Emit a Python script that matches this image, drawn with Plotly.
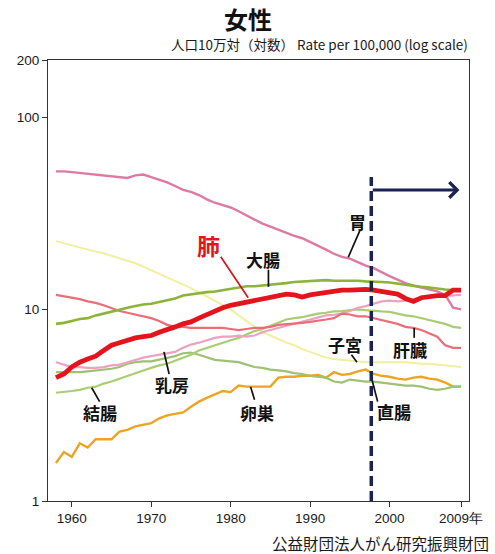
import math
import plotly.graph_objects as go

# ---- data: female cancer mortality, rate per 100,000 (log scale) ----
years = list(range(1958, 2010))

stomach = [52.5, 52.5, 52.0, 51.5, 51.0, 50.5, 50.0, 49.5, 49.0, 48.5,
           50.0, 50.5, 49.0, 47.5, 46.0, 44.0, 42.0, 41.0, 39.5, 37.5,
           36.0, 35.0, 34.0, 32.5, 31.0, 29.5, 28.0, 27.0, 26.0, 25.0,
           24.2, 23.5, 22.5, 21.5, 20.5, 19.5, 18.8, 18.4, 17.6, 16.9,
           16.4, 15.6, 14.9, 14.3, 13.7, 13.3, 13.0, 12.7, 12.4, 11.9,
           10.2, 10.0]

colorectal = [8.4, 8.5, 8.7, 8.9, 9.0, 9.3, 9.5, 9.75, 10.0, 10.2,
              10.4, 10.6, 10.7, 10.9, 11.1, 11.4, 11.8, 12.0, 12.1, 12.3,
              12.4, 12.6, 12.8, 13.0, 13.2, 13.2, 13.3, 13.4, 13.6, 13.7,
              13.9, 14.0, 14.1, 14.2, 14.2, 14.1, 14.1, 14.2, 14.1, 14.0,
              14.0, 13.9, 13.8, 13.6, 13.4, 13.3, 13.1, 13.0, 12.8, 12.7,
              12.6, 12.6]

lung = [4.4, 4.6, 5.0, 5.3, 5.5, 5.7, 6.1, 6.5, 6.7, 6.9,
        7.1, 7.2, 7.3, 7.6, 7.9, 8.1, 8.4, 8.6, 9.0, 9.4,
        9.9, 10.2, 10.5, 10.7, 11.0, 11.2, 11.4, 11.6, 11.8, 12.0,
        11.9, 11.6, 11.9, 12.1, 12.2, 12.4, 12.6, 12.6, 12.7, 12.7,
        12.6, 12.4, 12.2, 12.0, 11.4, 11.0, 11.5, 11.7, 11.8, 11.8,
        12.6, 12.6]

liver = [11.9, 11.7, 11.5, 11.3, 11.0, 10.8, 10.5, 10.1, 9.8, 9.6,
         9.4, 9.2, 9.0, 8.7, 8.3, 8.1, 8.1, 8.0, 8.0, 8.0,
         8.0, 8.0, 7.9, 7.8, 7.9, 8.0, 8.0, 8.1, 8.3, 8.35,
         8.4, 8.5, 8.6, 8.7, 8.85, 9.0, 9.5, 9.4, 9.2, 9.2,
         9.0, 8.8, 8.6, 8.4, 8.1, 8.0, 7.8, 7.5, 7.2, 6.5,
         6.3, 6.3]

uterus = [22.7, 22.1, 21.5, 21.0, 20.5, 20.0, 19.6, 19.0, 18.5, 18.0,
          17.4, 16.7, 16.0, 15.4, 14.8, 14.1, 13.5, 12.9, 12.3, 11.7,
          11.1, 10.5, 10.0, 9.3, 8.7, 8.1, 7.6, 7.3, 7.0, 6.7,
          6.5, 6.2, 6.0, 5.8, 5.6, 5.5, 5.45, 5.4, 5.35, 5.3,
          5.3, 5.3, 5.3, 5.3, 5.3, 5.25, 5.2, 5.2, 5.15, 5.1,
          5.05, 5.0]

rectum = [4.7, 4.7, 4.7, 4.7, 4.75, 4.8, 4.85, 4.9, 5.0, 5.2,
          5.3, 5.35, 5.35, 5.45, 5.55, 5.7, 5.9, 5.95, 5.8, 5.6,
          5.45, 5.4, 5.35, 5.3, 5.15, 5.0, 4.95, 4.85, 4.8, 4.75,
          4.65, 4.6, 4.5, 4.45, 4.4, 4.2, 4.15, 4.3, 4.25, 4.2,
          4.2, 4.15, 4.1, 4.05, 4.0, 4.0, 3.95, 3.85, 3.8, 3.85,
          3.95, 3.95]

colon = [3.67, 3.7, 3.75, 3.8, 3.9, 3.95, 4.1, 4.2, 4.35, 4.5,
         4.65, 4.8, 4.95, 5.1, 5.2, 5.4, 5.6, 5.8, 6.1, 6.3,
         6.5, 6.7, 6.9, 7.1, 7.4, 7.7, 7.9, 8.2, 8.5, 8.85,
         9.0, 9.1, 9.3, 9.5, 9.6, 9.75, 9.8, 9.9, 10.0, 9.9,
         9.8, 9.75, 9.7, 9.5, 9.3, 9.2, 9.0, 8.8, 8.6, 8.4,
         8.1, 8.0]

breast = [5.3, 5.15, 5.0, 5.0, 4.95, 4.95, 5.0, 5.1, 5.15, 5.3,
          5.45, 5.6, 5.7, 5.8, 5.9, 6.0, 6.3, 6.55, 6.7, 6.9,
          7.1, 7.2, 7.2, 7.3, 7.2, 7.3, 7.6, 7.8, 8.0, 8.15,
          8.4, 8.6, 8.8, 9.0, 9.3, 9.35, 9.5, 9.8, 10.2, 10.4,
          10.7, 11.0, 11.1, 11.0, 11.1, 11.3, 11.5, 11.6, 11.7, 11.8,
          11.8, 11.9]

ovary = [1.58, 1.8, 1.7, 2.0, 1.9, 2.1, 2.1, 2.1, 2.3, 2.35,
         2.45, 2.5, 2.55, 2.7, 2.8, 2.85, 2.9, 3.1, 3.3, 3.45,
         3.6, 3.75, 3.7, 4.0, 3.95, 3.95, 3.95, 3.95, 4.4, 4.45,
         4.45, 4.5, 4.5, 4.55, 4.4, 4.7, 4.55, 4.6, 4.75, 4.85,
         4.6, 4.5, 4.45, 4.35, 4.3, 4.4, 4.45, 4.35, 4.3, 4.15,
         3.95, 3.95]

x_tick_vals = [1960, 1970, 1980, 1990, 2000, 2009]
x_tick_text = ["1960", "1970", "1980", "1990", "2000", "2009年"]
y_tick_vals = [1, 10, 100, 200]

marker_year = 1997.7     # vertical dashed marker
arrow_end_year = 2008.8
arrow_rate = 42
dash_top_rate = 49

# series drawn back to front: (values, colour, width)
series = [
    (uterus, "#f3eea0", 2.0),
    (ovary, "#eea323", 2.4),
    (rectum, "#9ec172", 2.2),
    (colon, "#a9cd72", 2.2),
    (breast, "#eca2c2", 2.2),
    (liver, "#ea6d78", 2.2),
    (stomach, "#de7aa2", 2.4),
    (colorectal, "#8cb43a", 2.6),
    (lung, "#e5141c", 4.8),
]

# labels: text, (year, rate) of text centre, pointer from -> to
labels = [
    ("胃", (1996.0, 28.6), (1996.3, 26.0), (1994.8, 18.7)),
    ("大腸", (1984.1, 18.3), (1984.75, 16.1), (1984.75, 13.1)),
    ("子宮", (1994.4, 6.55), (1995.2, 5.8), (1995.9, 5.3)),
    ("肝臓", (2002.6, 6.15), (2003.1, 8.0), (2003.1, 7.1)),
    ("直腸", (2000.6, 2.92), (1997.6, 4.6), (1998.5, 3.3)),
    ("乳房", (1972.6, 4.05), (1971.6, 6.0), (1972.25, 4.6)),
    ("結腸", (1963.5, 2.88), (1962.5, 3.9), (1963.5, 3.3)),
    ("卵巣", (1983.3, 2.88), (1982.5, 3.95), (1983.0, 3.38)),
]

LABEL_FONT = "Noto Sans CJK JP"
TICK_FONT = dict(family="Liberation Sans", size=13.5, color="#1a1a1a")

fig = go.Figure()

for values, colour, width in series:
    fig.add_trace(go.Scatter(
        x=years, y=values, mode="lines",
        line=dict(color=colour, width=width, shape="linear"),
        hoverinfo="skip", showlegend=False,
    ))

# pointer lines from each label to its series
for text, pos, p0, p1 in labels:
    fig.add_trace(go.Scatter(
        x=[p0[0], p1[0]], y=[p0[1], p1[1]], mode="lines",
        line=dict(color="#111111", width=1.7),
        hoverinfo="skip", showlegend=False,
    ))
    fig.add_annotation(
        x=pos[0], y=math.log10(pos[1]), xref="x", yref="y",
        xanchor="center", yanchor="middle",
        text=f"<b>{text}</b>", showarrow=False,
        font=dict(family=LABEL_FONT, size=17, color="#111111"),
    )

# lung label in red with its own pointer
fig.add_trace(go.Scatter(
    x=[1978.75, 1982.2], y=[18.8, 11.5], mode="lines",
    line=dict(color="#d4141c", width=1.7),
    hoverinfo="skip", showlegend=False,
))
fig.add_annotation(
    x=1977.25, y=math.log10(21.6), xref="x", yref="y",
    xanchor="center", yanchor="middle",
    text="<b>肺</b>", showarrow=False,
    font=dict(family=LABEL_FONT, size=23, color="#e5141c"),
)

# vertical dashed marker
fig.add_trace(go.Scatter(
    x=[marker_year, marker_year], y=[1, dash_top_rate], mode="lines",
    line=dict(color="#1b2350", width=3.5, dash="10px,5px"),
    hoverinfo="skip", showlegend=False,
))

# arrow pointing to the right from the marker
fig.add_annotation(
    x=arrow_end_year, y=math.log10(arrow_rate), xref="x", yref="y",
    ax=marker_year, ay=math.log10(arrow_rate), axref="x", ayref="y",
    text="", showarrow=True, arrowhead=4, arrowsize=1.0, arrowwidth=3,
    arrowcolor="#1b2350",
)

# title, unit line and source
fig.add_annotation(
    x=0.476, y=1.094, xref="paper", yref="paper",
    xanchor="center", yanchor="middle",
    text="<b>女性</b>", showarrow=False,
    font=dict(family=LABEL_FONT, size=24, color="#111111"),
)
fig.add_annotation(
    x=1.003, y=1.037, xref="paper", yref="paper",
    xanchor="right", yanchor="middle",
    text="人口10万対（対数） Rate per 100,000 (log scale)", showarrow=False,
    font=dict(family=LABEL_FONT, size=13.5, color="#1a1a1a"),
)
fig.add_annotation(
    x=1.052, y=-0.096, xref="paper", yref="paper",
    xanchor="right", yanchor="middle",
    text="公益財団法人がん研究振興財団", showarrow=False,
    font=dict(family=LABEL_FONT, size=15.5, color="#1a1a1a"),
)

fig.update_xaxes(
    range=[1957, 2010], tickvals=x_tick_vals, ticktext=x_tick_text,
    ticks="outside", ticklen=5, tickcolor="#333333",
    showline=True, mirror=True, linecolor="#333333", linewidth=1,
    showgrid=False, zeroline=False, tickfont=TICK_FONT,
)
fig.update_yaxes(
    type="log", range=[0, math.log10(200)], tickvals=y_tick_vals,
    ticktext=[str(v) for v in y_tick_vals],
    ticks="outside", ticklen=5, tickcolor="#333333",
    showline=True, mirror=True, linecolor="#333333", linewidth=1,
    showgrid=False, zeroline=False, tickfont=TICK_FONT,
)

fig.update_layout(
    width=495, height=554,
    margin=dict(l=48, r=23, t=60, b=53),
    paper_bgcolor="white", plot_bgcolor="white",
    showlegend=False,
)

fig.write_html("out.html")
